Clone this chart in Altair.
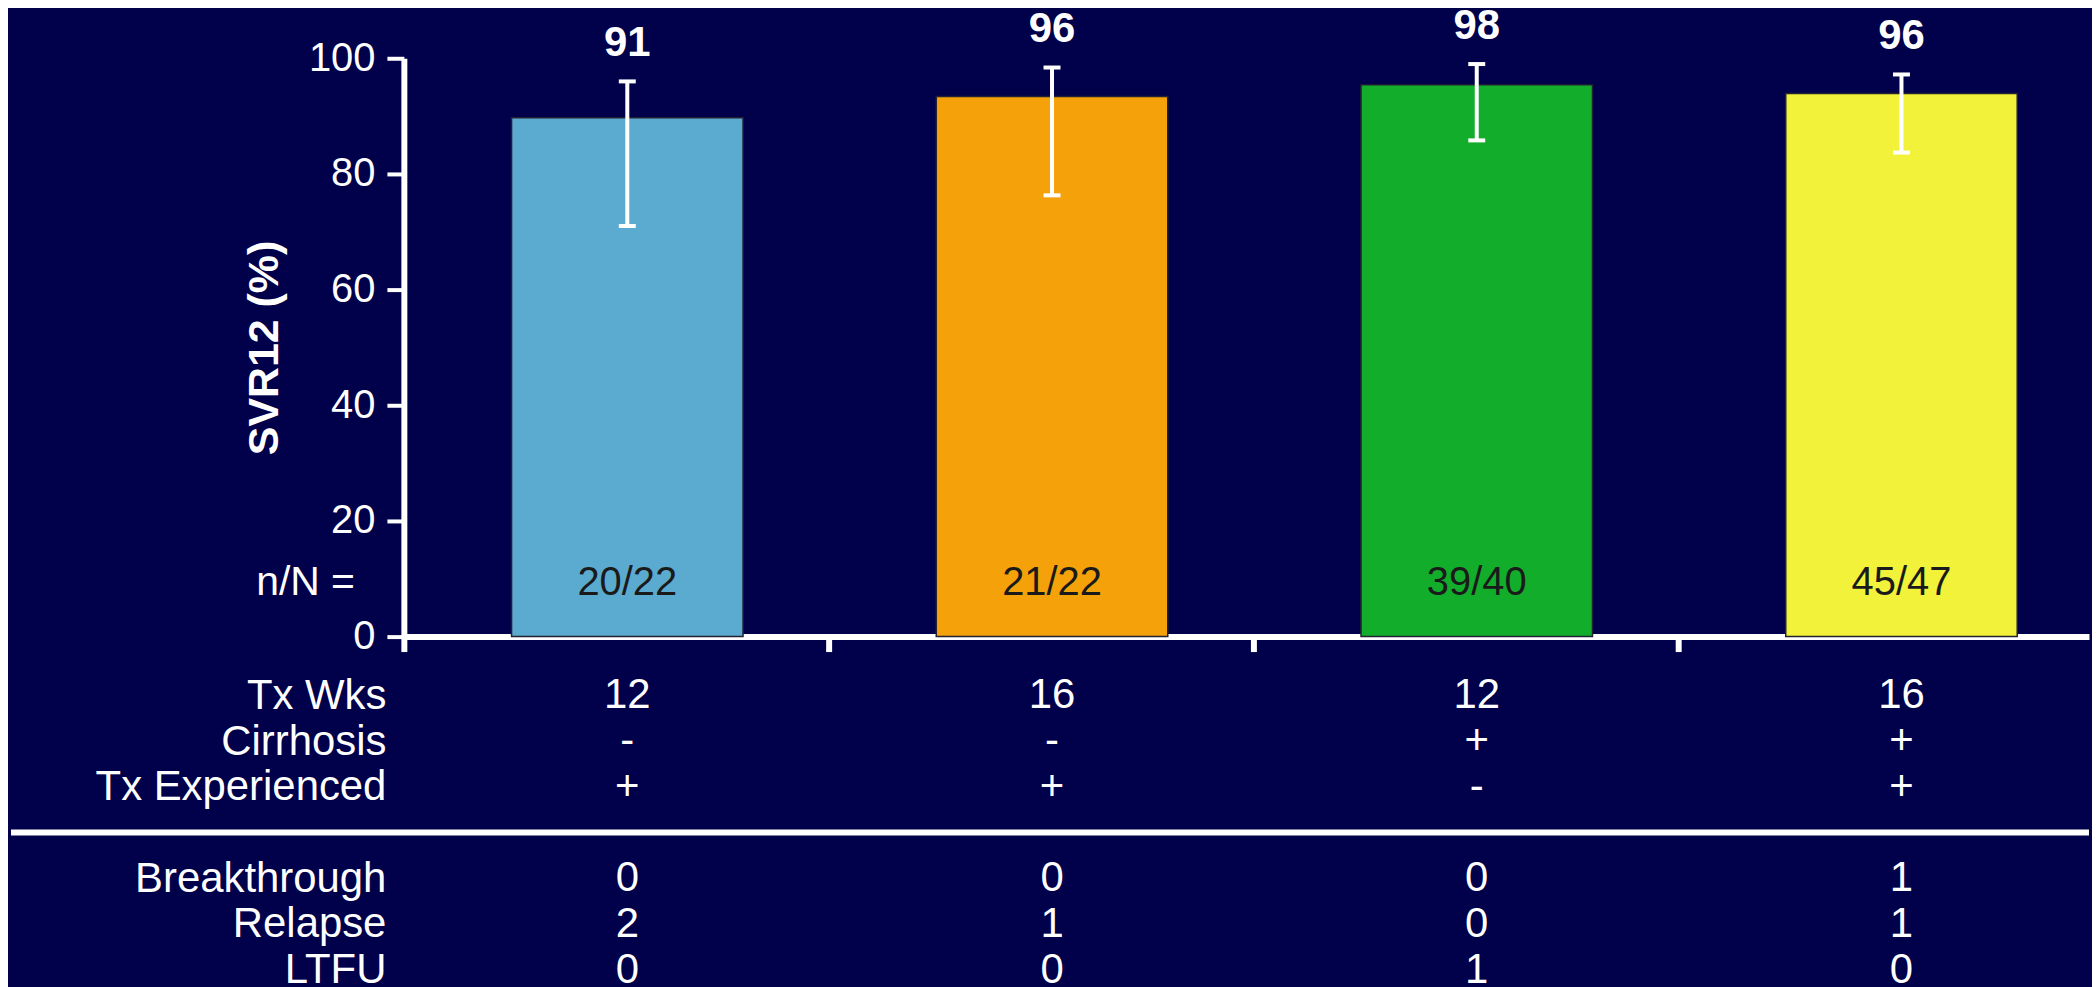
import altair as alt
import pandas as pd

# ---------------- data ----------------
groups = ["G1", "G2", "G3", "G4"]
svr = [89.7, 93.4, 95.4, 93.9]
ci_low = [71.0, 76.3, 85.8, 83.7]
ci_high = [96.0, 98.4, 99.0, 97.2]
pct_labels = ["91", "96", "98", "96"]
n_over_N = ["20/22", "21/22", "39/40", "45/47"]
bar_colors = ["#5BAACF", "#F5A10A", "#13AD2C", "#F2F23A"]

row_keys = ["Tx Wks", "Cirrhosis", "Tx Experienced", "sep", "Breakthrough", "Relapse", "LTFU"]
tx_wks = ["12", "16", "12", "16"]
cirrhosis = ["-", "-", "+", "+"]
tx_experienced = ["+", "+", "-", "+"]
breakthrough = ["0", "0", "0", "1"]
relapse = ["2", "1", "0", "1"]
ltfu = ["0", "0", "1", "0"]

y_ticks = [0, 20, 40, 60, 80, 100]

# ---------------- tables ----------------
df = pd.DataFrame({
    "group": groups, "svr": svr, "lo": ci_low, "hi": ci_high,
    "pct": pct_labels, "nN": n_over_N,
})

rows = {
    "Tx Wks": tx_wks, "Cirrhosis": cirrhosis, "Tx Experienced": tx_experienced,
    "Breakthrough": breakthrough, "Relapse": relapse, "LTFU": ltfu,
}
tdf = pd.DataFrame([
    {"group": g, "row": r, "val": vals[i]}
    for r, vals in rows.items() for i, g in enumerate(groups)
])

BG = "#00004B"
FONT = "Liberation Sans"
W = 1690

xscale = alt.Scale(type="band", domain=groups, paddingInner=0.455,
                   paddingOuter=0.2113, align=0.6)

x_axis = alt.Axis(
    labels=False, title=None, domainColor="white", domainWidth=6,
    tickColor="white", tickWidth=6, tickSize=15, bandPosition=0, tickOffset=-108,
)
y_axis = alt.Axis(
    values=y_ticks, title="SVR12 (%)", titleFontSize=43, titleFontWeight="bold",
    titleColor="white", titleFont=FONT, titlePadding=22,
    labelFontSize=40, labelColor="white", labelFont=FONT, labelPadding=12,
    domainColor="white", domainWidth=6, tickColor="white", tickWidth=4, tickSize=17,
    grid=False,
)

base = alt.Chart(df).encode(x=alt.X("group:N", scale=xscale, axis=x_axis))
yscale = alt.Scale(domain=[0, 100], nice=False)

bars = base.mark_bar(stroke="#222233", strokeWidth=1.5).encode(
    y=alt.Y("svr:Q", scale=yscale, axis=y_axis),
    color=alt.Color("group:N", scale=alt.Scale(domain=groups, range=bar_colors), legend=None),
)
err = base.mark_rule(color="white", strokeWidth=4).encode(
    y=alt.Y("lo:Q", scale=yscale), y2="hi:Q"
)
caps = base.transform_fold(["lo", "hi"], as_=["k", "v"]).mark_tick(
    color="white", size=17, thickness=4, opacity=1
).encode(y=alt.Y("v:Q", scale=yscale))
pct = base.transform_calculate(ly="datum.hi + 6.6").mark_text(
    fontSize=42, fontWeight="bold", color="white", font=FONT, baseline="middle"
).encode(y=alt.Y("ly:Q", scale=yscale), text="pct:N")
nn = base.mark_text(
    fontSize=40, color="#1A1A1A", font=FONT, baseline="middle"
).encode(y=alt.datum(9.2), text="nN:N")
nn_label = alt.Chart(pd.DataFrame({"t": ["n/N ="]})).mark_text(
    fontSize=41, color="white", font=FONT, align="right", baseline="middle"
).encode(x=alt.value(-49), y=alt.datum(9.2), text="t:N")

top = alt.layer(bars, err, caps, pct, nn, nn_label).properties(width=W, height=580)

row_scale = alt.Scale(type="point", domain=row_keys, padding=0)
table_text = alt.Chart(tdf).mark_text(
    fontSize=42, color="white", font=FONT, baseline="middle"
).encode(
    x=alt.X("group:N", scale=xscale, axis=None),
    y=alt.Y("row:N", scale=row_scale, axis=alt.Axis(
        title=None, domain=False, ticks=False, labelFontSize=42, labelColor="white",
        labelFont=FONT, labelPadding=18, labelLimit=500, labelOverlap=False,
        labelExpr="datum.value == 'sep' ? '' : datum.value",
    )),
    text="val:N",
)
sep = alt.Chart(pd.DataFrame({"row": ["sep"]})).mark_rule(
    color="white", strokeWidth=6
).encode(
    y=alt.Y("row:N", scale=row_scale), x=alt.value(-394), x2=alt.value(W)
)
table = alt.layer(table_text, sep).properties(width=W, height=275)

chart = alt.vconcat(top, table, spacing=18).properties(
    background=BG, padding={"top": -5, "left": 0, "right": 0, "bottom": 0}
).configure_view(stroke=None)

chart.save("out.html", embed_options={"renderer": "svg", "actions": False})
